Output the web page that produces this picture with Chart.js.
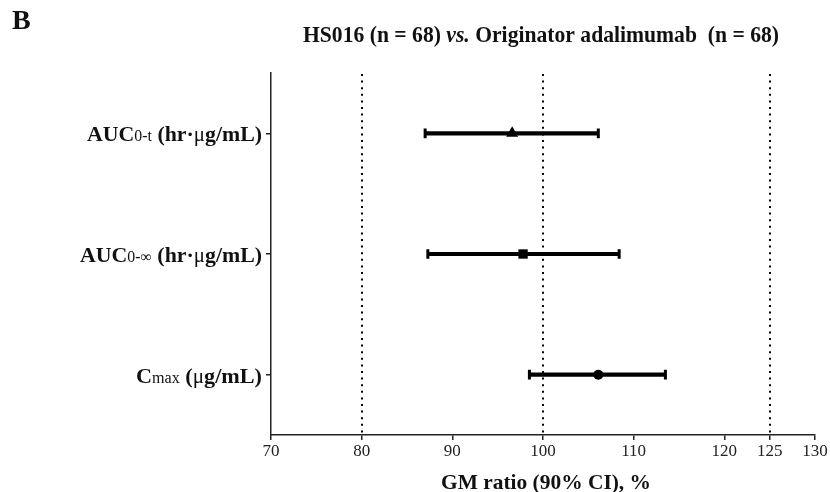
<!DOCTYPE html>
<html>
<head>
<meta charset="utf-8">
<script src="https://cdn.jsdelivr.net/npm/chart.js@4/dist/chart.umd.min.js"></script>
<style>
  html, body { margin: 0; padding: 0; background: #fff; }
  #wrap { width: 830px; height: 492px; }
</style>
</head>
<body>
<div id="wrap"><canvas id="c" width="830" height="492"></canvas></div>
<script>
// ---- data ----
const categories = ['AUC0-t (hr·μg/mL)', 'AUC0-∞ (hr·μg/mL)', 'Cmax (μg/mL)'];
const pointEstimate = [96.6, 97.8, 106.1];
const ciLower = [87.0, 87.3, 98.5];
const ciUpper = [106.1, 108.4, 113.5];
const xTicks = [70, 80, 90, 100, 110, 120, 125, 130];
const refLines = [80, 100, 125];
const markerStyles = ['triangle', 'rect', 'circle'];
const panelLetter = 'B';
const xTitle = 'GM ratio (90% CI), %';

const SERIF = '"Liberation Serif", "Times New Roman", serif';
const INK = '#111';

function richLabel(label) {
  const m = label.match(/^(AUC|C)(0-t|0-∞|max)( \((?:hr·)?)(μ)(g\/mL\))$/);
  if (!m) return [{ t: label, f: 'bold 22px ' + SERIF }];
  return [
    { t: m[1], f: 'bold 22px ' + SERIF },
    { t: m[2], f: '16px ' + SERIF },
    { t: m[3], f: 'bold 22px ' + SERIF },
    { t: m[4], f: '21px ' + SERIF },
    { t: m[5], f: 'bold 22px ' + SERIF }
  ];
}

function drawRich(ctx, segs, left, right, baseline) {
  let w = 0;
  segs.forEach(s => { ctx.font = s.f; s.w = ctx.measureText(s.t).width; w += s.w; });
  const sx = right == null ? 1 : (right - left) / w;
  ctx.save();
  ctx.translate(left, baseline);
  ctx.scale(sx, 1);
  ctx.fillStyle = INK;
  ctx.textBaseline = 'alphabetic';
  ctx.textAlign = 'left';
  let x = 0;
  segs.forEach(s => { ctx.font = s.f; ctx.fillText(s.t, x, 0); x += s.w; });
  ctx.restore();
}

const labelLefts = [87, 80, 136];

const decor = {
  id: 'decor',
  beforeDatasetsDraw(chart) {
    const { ctx, chartArea: a, scales: { x } } = chart;
    ctx.save();
    ctx.strokeStyle = '#000';
    ctx.lineWidth = 2;
    ctx.setLineDash([2, 4.6]);
    refLines.forEach(v => {
      const px = Math.round(x.getPixelForValue(v));
      ctx.beginPath();
      ctx.moveTo(px, a.top + 1);
      ctx.lineTo(px, a.bottom - 1);
      ctx.stroke();
    });
    ctx.restore();
  },
  afterDraw(chart) {
    const { ctx, scales: { y } } = chart;
    drawRich(ctx, [{ t: panelLetter, f: 'bold 28px ' + SERIF }], 12, null, 29);
    drawRich(ctx, [
      { t: 'HS016 (n = 68) ', f: 'bold 23px ' + SERIF },
      { t: 'vs.', f: 'italic bold 23px ' + SERIF },
      { t: ' Originator adalimumab  (n = 68)', f: 'bold 23px ' + SERIF }
    ], 303, 779, 42);
    categories.forEach((c, i) => {
      const py = y.getPixelForValue(i);
      drawRich(ctx, richLabel(c), labelLefts[i], 262, py + 8);
    });
    drawRich(ctx, [{ t: xTitle, f: 'bold 21px ' + SERIF }], 441, 651, 489);
  }
};

const capData = [];
categories.forEach((c, i) => {
  capData.push({ x: ciLower[i], y: c });
  capData.push({ x: ciUpper[i], y: c });
});

new Chart(document.getElementById('c'), {
  type: 'bar',
  data: {
    labels: categories,
    datasets: [
      {
        type: 'bar',
        data: categories.map((c, i) => [ciLower[i], ciUpper[i]]),
        backgroundColor: '#000',
        borderWidth: 0,
        barThickness: 3.5,
        order: 3
      },
      {
        type: 'scatter',
        data: capData,
        pointStyle: 'line',
        rotation: 90,
        radius: 4.8,
        borderWidth: 3,
        borderColor: '#000',
        order: 2
      },
      {
        type: 'scatter',
        data: categories.map((c, i) => ({ x: pointEstimate[i], y: c })),
        pointStyle: markerStyles,
        radius: [7, 6.6, 5],
        backgroundColor: '#000',
        borderColor: '#000',
        borderWidth: 0,
        order: 1
      }
    ]
  },
  options: {
    indexAxis: 'y',
    responsive: false,
    animation: false,
    events: [],
    layout: { padding: { top: 73, right: 15, left: 0, bottom: 0 } },
    plugins: { legend: { display: false }, tooltip: { enabled: false }, title: { display: false } },
    scales: {
      x: {
        type: 'linear',
        min: 70,
        max: 130,
        afterBuildTicks: s => { s.ticks = xTicks.map(v => ({ value: v })); },
        afterFit: s => { s.height = 57; },
        grid: { drawOnChartArea: false, drawTicks: true, tickLength: 5, color: '#222', lineWidth: 1.5 },
        border: { display: true, color: '#222', width: 1.5 },
        ticks: {
          font: { family: SERIF, size: 17 },
          color: '#222',
          padding: 1,
          autoSkip: false,
          maxRotation: 0,
          minRotation: 0
        }
      },
      y: {
        type: 'category',
        offset: true,
        afterFit: s => { s.width = 271; },
        grid: { drawOnChartArea: false, drawTicks: true, tickLength: 5, color: '#222', lineWidth: 1.5, offset: false },
        border: { display: true, color: '#222', width: 1.5 },
        ticks: { display: false }
      }
    }
  },
  plugins: [decor]
});
</script>
</body>
</html>
